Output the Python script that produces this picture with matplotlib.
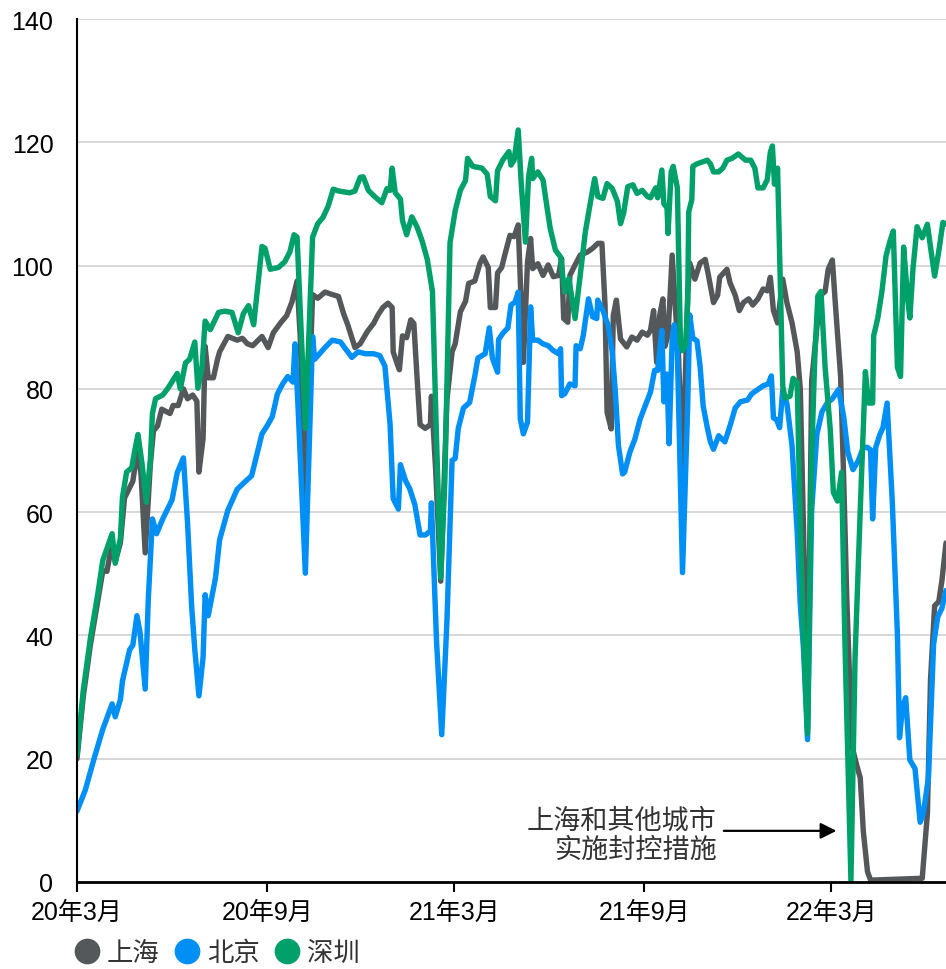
import matplotlib
matplotlib.use("Agg")
import matplotlib.pyplot as plt
from matplotlib.lines import Line2D
import pandas as pd
import numpy as np

plt.rcParams['font.family'] = ['Liberation Sans', 'Noto Sans CJK SC']

START = '2020-03-01'
END_DAY = 841

series_names = ['上海', '北京', '深圳']
colors = ['#55585b', '#0090f5', '#00a06b']

xtick_dates = ['2020-03-01', '2020-09-01', '2021-03-01', '2021-09-01', '2022-03-01']
xtick_labels = ['20年3月', '20年9月', '21年3月', '21年9月', '22年3月']

# 上海 (days since 2020-03-01, value)
sh_days = [0, 6, 13, 20, 25, 29, 34, 37, 42, 46,
           54, 59, 62, 66, 71, 74, 78, 82, 90, 93,
           98, 103, 107, 112, 116, 118, 122, 124, 127, 132,
           136, 138, 146, 155, 160, 165, 170, 179, 185, 190,
           197, 203, 208, 213, 216, 221, 228, 233, 240, 247,
           253, 258, 262, 269, 274, 281, 287, 291, 296, 301,
           305, 306, 310, 312, 315, 319, 323, 326, 329, 332,
           337, 342, 343, 347, 352, 358, 363, 366, 371, 376,
           379, 385, 390, 393, 398, 400, 405, 407, 411, 414,
           419, 423, 427, 430, 432, 436, 439, 441, 446, 451,
           456, 461, 466, 469, 471, 475, 477, 482, 487, 494,
           499, 504, 508, 511, 513, 517, 519, 522, 526, 532,
           537, 542, 547, 552, 555, 558, 561, 564, 567, 569,
           572, 576, 579, 582, 586, 591, 593, 598, 603, 608,
           611, 616, 620, 622, 629, 632, 637, 641, 645, 650,
           654, 659, 664, 668, 671, 674, 678, 683, 687, 692,
           697, 700, 703, 707, 711, 714, 719, 724, 727, 731,
           734, 739, 742, 745, 750, 755, 758, 761, 765, 768,
           818, 823, 826, 830, 834, 837, 841]
sh_vals = [20, 30, 38.5, 45.5, 50.5, 50.4, 55, 52, 55, 62.3,
           65, 70.5, 66, 53.4, 67.8, 73.2, 74, 76.7, 76, 77.3,
           77.3, 80, 78.4, 79, 78, 66.5, 71.9, 86.9, 81.8, 81.8,
           84.8, 86, 88.5, 87.9, 88.2, 87.3, 87, 88.5, 86.7, 89.1,
           90.7, 91.9, 94.1, 97.5, 88.5, 61.3, 95.3, 94.7, 95.7, 95.3,
           95, 92.2, 90.4, 86.7, 87.3, 89.3, 90.6, 91.9, 93.2, 93.9,
           93.2, 86, 84, 83.1, 88.6, 88.3, 91.2, 90.6, 82.1, 74.2,
           73.6, 74.2, 78.8, 67.1, 48.8, 78.2, 86, 87.3, 92.5, 94.2,
           97.1, 97.5, 100.4, 101.4, 99.7, 93.2, 93.2, 98.8, 99.7, 101.7,
           104.9, 104.7, 106.6, 93, 84.3, 100.6, 104.4, 99.5, 100.3, 98.4,
           100.1, 98.2, 98.4, 101.1, 91.4, 90.8, 98.4, 100.1, 101.7, 102.2,
           102.8, 103.6, 103.6, 93.6, 76.2, 73.5, 91.9, 94.4, 88.1, 86.8,
           88.4, 87.9, 89.2, 88.7, 89.5, 92.7, 84.3, 92, 94.6, 86.9,
           88.8, 101.7, 93.3, 86.2, 66, 95.2, 100.4, 97.8, 100.4, 101,
           98.5, 94, 95.2, 98.1, 99.4, 97.2, 95.2, 92.7, 94, 94.6,
           93.6, 94.6, 96.2, 95.9, 98.1, 92.7, 90.7, 97.8, 94, 90.7,
           86, 80, 58, 25, 81.3, 86.4, 95.1, 95.8, 99.4, 100.9,
           93.6, 82, 65.4, 45.9, 22, 18.7, 16.9, 8.2, 1.7, 0.3,
           0.6, 11.1, 32.8, 44.8, 45.5, 48.8, 55]

# 北京
bj_days = [0, 8, 17, 25, 34, 37, 42, 44, 51, 54,
           58, 61, 66, 69, 73, 77, 83, 92, 97, 103,
           107, 111, 114, 118, 122, 124, 127, 134, 138, 146,
           155, 163, 169, 174, 179, 184, 189, 194, 199, 204,
           209, 211, 214, 221, 228, 230, 240, 247, 255, 266,
           272, 279, 287, 293, 298, 303, 306, 311, 313, 318,
           322, 327, 332, 337, 342, 343, 348, 353, 358, 363,
           366, 369, 374, 380, 385, 388, 395, 399, 402, 407,
           408, 412, 417, 420, 424, 427, 429, 432, 436, 439,
           441, 446, 451, 456, 461, 466, 468, 469, 472, 477,
           482, 483, 487, 490, 495, 499, 503, 504, 509, 514,
           518, 521, 524, 528, 530, 535, 540, 545, 550, 555,
           559, 562, 566, 568, 571, 573, 576, 578, 581, 586,
           591, 593, 596, 600, 603, 606, 610, 613, 616, 621,
           627, 632, 637, 642, 649, 653, 658, 664, 669, 672,
           674, 677, 680, 683, 687, 692, 697, 700, 703, 707,
           711, 716, 721, 726, 731, 737, 742, 746, 751, 756,
           761, 765, 768, 770, 773, 777, 780, 784, 789, 794,
           796, 799, 802, 806, 811, 816, 819, 824, 829, 833,
           837, 841]
bj_vals = [11.5, 14.9, 20.3, 24.8, 28.9, 26.8, 29.6, 32.6, 37.7, 38.4,
           43.2, 40.5, 31.3, 45.9, 58.9, 56.5, 58.9, 62, 66.4, 68.8,
           58.2, 44.6, 37.7, 30.2, 36.4, 46.6, 43.2, 49.3, 55.5, 60.3,
           63.7, 65, 65.9, 69.3, 72.7, 74, 75.5, 79.2, 80.8, 82,
           81.1, 87.3, 76.8, 50.1, 88.5, 84.8, 86.7, 87.9, 87.6, 85.1,
           86, 85.7, 85.7, 85.4, 83.7, 74.2, 62.2, 60.5, 67.7, 65.1,
           63.8, 61.2, 56.3, 56.3, 56.9, 61.5, 38.9, 23.9, 42.2, 68.4,
           68.7, 73.6, 76.9, 77.8, 82.1, 85, 85.7, 89.9, 85, 82.7,
           88, 89, 89.9, 93.6, 94.1, 95.7, 75.1, 72.7, 74.6, 93.3,
           87.9, 87.9, 87.3, 87, 86.2, 85.7, 86.5, 78.9, 79.2, 80.8,
           80.5, 87, 86.5, 88.7, 94.6, 91.7, 91.4, 94.4, 92.7, 90.3,
           86, 79.5, 70.8, 66.2, 66.5, 69.7, 71.9, 75.1, 77.3, 79.5,
           83, 83, 89.5, 77.9, 82.4, 71.1, 88.2, 90.4, 86.2, 50.2,
           77.2, 92, 88.2, 87.8, 83.7, 77.2, 73.7, 71.4, 70.2, 72.4,
           71.4, 74, 76.9, 77.9, 78.2, 79.2, 79.8, 80.5, 80.8, 82.1,
           75.3, 75, 73.7, 79.8, 77.6, 70.8, 56.7, 45, 38, 23.1,
           60.3, 72.6, 76.3, 77.7, 78.4, 79.9, 75.5, 69.7, 66.9, 68.3,
           70.5, 70.5, 70.1, 58.9, 70.5, 72.6, 73.7, 77.7, 61.8, 40.1,
           23.4, 28.5, 29.9, 19.8, 18.4, 9.7, 11.1, 16.9, 38.6, 43,
           44.4, 47.3]

# 深圳
sz_days = [0, 6, 13, 20, 25, 34, 37, 42, 44, 48,
           53, 56, 59, 63, 67, 71, 73, 76, 83, 88,
           97, 100, 105, 109, 114, 117, 121, 124, 129, 137,
           143, 150, 156, 161, 166, 171, 179, 182, 187, 195,
           201, 206, 210, 213, 221, 228, 233, 238, 243, 248,
           253, 264, 269, 274, 277, 282, 288, 295, 300, 303,
           305, 308, 313, 315, 319, 324, 329, 334, 339, 344,
           348, 352, 356, 361, 366, 371, 376, 378, 383, 392,
           397, 400, 405, 407, 412, 418, 420, 423, 427, 430,
           434, 437, 440, 441, 446, 451, 455, 458, 463, 468,
           470, 472, 476, 482, 487, 492, 497, 501, 504, 509,
           513, 518, 523, 526, 529, 533, 538, 542, 547, 552,
           555, 560, 562, 566, 568, 571, 572, 575, 577, 581,
           584, 586, 589, 591, 592, 595, 596, 600, 605, 610,
           613, 616, 621, 625, 629, 634, 640, 647, 652, 656,
           659, 664, 668, 671, 673, 675, 678, 683, 685, 690,
           693, 697, 700, 703, 707, 711, 714, 717, 720, 724,
           729, 732, 736, 740, 743, 749, 753, 758, 763, 766,
           770, 771, 775, 779, 783, 787, 790, 794, 797, 800,
           804, 806, 809, 813, 818, 823, 826, 830, 834, 838,
           841]
sz_vals = [20.5, 31, 39.6, 46.6, 52.2, 56.5, 51.7, 55.8, 62.4, 66.5,
           67.2, 70.1, 72.6, 67.8, 61.6, 68.5, 76, 78.4, 79, 80.1,
           82.5, 80, 84.2, 84.8, 87.6, 80.1, 83.5, 91, 89.6, 92.4,
           92.6, 92.4, 89.1, 92.2, 93.5, 90.4, 103.1, 102.8, 99.4, 99.7,
           100.6, 102.2, 105, 104.6, 73.6, 104.6, 106.8, 107.8, 109.6, 112.4,
           112.1, 111.8, 112.1, 114.3, 114.4, 112.2, 111.2, 110.2, 112.5, 112.2,
           115.8, 111.8, 110.8, 107.3, 105, 107.9, 106.3, 104, 101, 95.8,
           71.6, 49.4, 65.1, 103.7, 108.9, 112.2, 113.8, 117.4, 116.1, 115.8,
           114.8, 111.2, 110.5, 115.4, 117.1, 118.5, 116.3, 117.1, 122, 113.1,
           103.8, 114.4, 117.4, 114.1, 115.2, 113.9, 109.3, 106, 102.5, 101.4,
           98.4, 95.7, 97.9, 91.4, 98.4, 105.5, 110.4, 114.1, 111.2, 110.9,
           113.3, 112.5, 110.4, 106.8, 108.5, 112.8, 113.1, 111.7, 112.2, 111.2,
           111, 112.6, 111, 115.5, 110, 109.4, 105.2, 115.2, 116.1, 112.6,
           87.5, 86.2, 87.2, 94, 108.7, 110.7, 116.1, 116.5, 116.8, 117.1,
           116.5, 115.2, 115.2, 115.8, 117.1, 117.4, 118.1, 117.1, 117.1, 115.8,
           112.6, 112.6, 113.9, 118.4, 119.4, 113.2, 115.8, 80.5, 78.5, 78.8,
           81.7, 81.1, 57.4, 40.1, 24.1, 69, 85, 95.1, 95.8, 83.5,
           73.4, 63.2, 61.8, 66.5, 40.1, 0.3, 36.5, 60.3, 82.8, 77.7,
           77.7, 88.6, 91.5, 95.8, 101.6, 104.1, 105.6, 83.5, 82, 103,
           94.4, 91.5, 99.4, 106.3, 104.5, 106.7, 103, 98.3, 102.3, 107,
           106.7]

annotation_text = '上海和其他城市\n实施封控措施'
arrow_from_day, arrow_to_day, arrow_level = 626, 735, 8.3
text_day, text_level = 619, 7.6

start = pd.Timestamp(START)


def to_dates(days):
    return start + pd.to_timedelta(np.asarray(days), unit='D')


fig = plt.figure(figsize=(9.46, 9.70), dpi=100)
ax = fig.add_axes([77 / 946, 1 - 883 / 970, (946 - 77) / 946, (883 - 20) / 970])

for days, vals, c in [(sh_days, sh_vals, colors[0]),
                      (bj_days, bj_vals, colors[1]),
                      (sz_days, sz_vals, colors[2])]:
    assert len(days) == len(vals)
    ax.plot(to_dates(days), vals, color=c, lw=3.9, solid_joinstyle='round',
            solid_capstyle='round', clip_on=True, zorder=3)

ax.set_xlim(start, start + pd.Timedelta(days=END_DAY))
ax.set_ylim(0, 140)
ax.set_yticks(np.arange(0, 141, 20))
ax.set_xticks(pd.to_datetime(xtick_dates))
ax.set_xticklabels(xtick_labels)
ax.tick_params(axis='y', length=0, pad=17, labelsize=18, labelcolor='black')
ax.tick_params(axis='x', length=7, width=1.5, pad=6, labelsize=18, labelcolor='black')
ax.yaxis.grid(True, color='#d4d4d4', lw=1.3)
ax.set_axisbelow(True)
for s in ['top', 'right']:
    ax.spines[s].set_visible(False)
ax.spines['left'].set_linewidth(1.5)
ax.spines['bottom'].set_linewidth(2.0)
ax.spines['left'].set_zorder(4)
ax.spines['bottom'].set_zorder(4)

ax.annotate('', xy=(start + pd.Timedelta(days=arrow_to_day), arrow_level),
            xytext=(start + pd.Timedelta(days=arrow_from_day), arrow_level),
            arrowprops=dict(arrowstyle='-|>', color='black', lw=1.6, mutation_scale=24,
                            shrinkA=0, shrinkB=0), zorder=5)
ax.text(start + pd.Timedelta(days=text_day), text_level, annotation_text,
        ha='right', va='center', multialignment='right', fontsize=19.5,
        color='#333333', linespacing=1.18, zorder=5)

handles = [Line2D([], [], marker='o', ls='', ms=17.5, color=c) for c in colors]
fig.legend(handles, series_names, loc='center left', bbox_to_anchor=(71 / 946, 16 / 970),
           ncol=3, frameon=False, handletextpad=0.15, columnspacing=0.45,
           handlelength=1.2, fontsize=19, labelcolor='#333333',
           borderaxespad=0, borderpad=0)

fig.savefig('out.png', dpi=100)
